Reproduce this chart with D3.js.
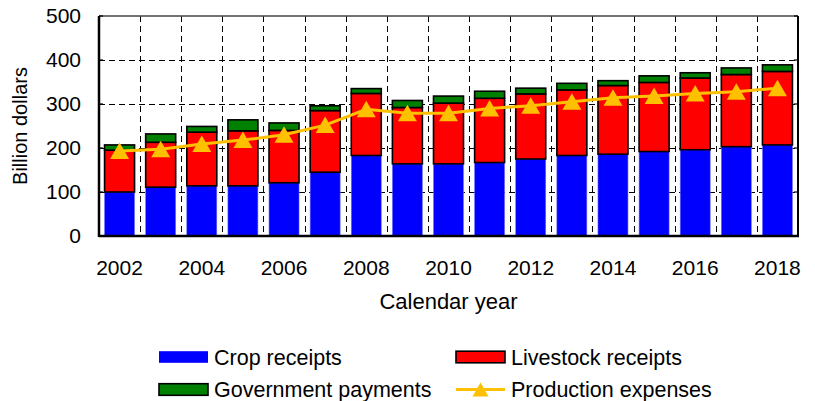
<!DOCTYPE html>
<html>
<head>
<meta charset="utf-8">
<script src="https://cdn.jsdelivr.net/npm/d3@7"></script>
<style>
body { margin: 0; background: #fff; }
text { font-family: "Liberation Sans", Arial, sans-serif; fill: #000; }
</style>
</head>
<body>
<script>
// values, billion dollars
var years = [2002,2003,2004,2005,2006,2007,2008,2009,2010,2011,2012,2013,2014,2015,2016,2017,2018];
var cropReceipts = [100,111,114,114,121,145,183,164,164,167,175,183,186,192,196,203,207];
var livestockReceipts = [95,102,122,125,119,140,141,128,138,146,148,149,156,157,163,164,167];
var govPayments = [12,19,13,25,17,11,11,16,16,16,13,15,11,15,12,15,15];
var prodExpenses = [193,197,209,218,230,252,288,279,279,290,296,305,314,318,324,328,336];
var yTicks = [0,100,200,300,400,500];
var xLabelYears = [2002,2004,2006,2008,2010,2012,2014,2016,2018];

var W = 815, H = 401;
var plotL = 99, plotR = 798, plotT = 16, plotB = 236;

var svg = d3.select("body").append("svg")
	.attr("width", W)
	.attr("height", H);

var x = d3.scaleBand().domain(years).range([plotL, plotR]).paddingInner(0).paddingOuter(0);
var y = d3.scaleLinear().domain([0, 500]).range([plotB, plotT]);

// grid, dashed
var grid = svg.append("g").attr("stroke", "#000").attr("stroke-width", 1).attr("stroke-dasharray", "6,4");
grid.selectAll(".hg").data(yTicks.filter(function(d){ return d > 0 && d < 500; }))
	.enter().append("line")
	.attr("x1", plotL).attr("x2", plotR)
	.attr("y1", function(d){ return Math.round(y(d)) + 0.5; }).attr("y2", function(d){ return Math.round(y(d)) + 0.5; });
grid.selectAll(".vg").data(years.slice(1))
	.enter().append("line")
	.attr("y1", plotT).attr("y2", plotB)
	.attr("x1", function(d){ return Math.round(x(d)) + 0.5; }).attr("x2", function(d){ return Math.round(x(d)) + 0.5; });

// stacked bars
var rows = years.map(function(yr, i){
	return { year: yr, crop: cropReceipts[i], livestock: livestockReceipts[i], gov: govPayments[i] };
});
var stack = d3.stack().keys(["crop", "livestock", "gov"])(rows);
var colors = { crop: "#0000ff", livestock: "#ff0000", gov: "#008000" };
var barW = 30;

stack.forEach(function(layer){
	svg.append("g").selectAll("rect").data(layer).enter().append("rect")
		.attr("x", function(d){ return x(d.data.year) + x.bandwidth()/2 - barW/2; })
		.attr("width", barW)
		.attr("y", function(d){ return y(d[1]); })
		.attr("height", function(d){ return y(d[0]) - y(d[1]); })
		.attr("fill", colors[layer.key])
		.attr("stroke", layer.key == "crop" ? "#7070ff" : "#000")
		.attr("stroke-width", layer.key == "crop" ? 0.6 : 1.6);
});

// production expenses line
var line = d3.line()
	.x(function(d, i){ return x(years[i]) + x.bandwidth()/2; })
	.y(function(d){ return y(d); });
svg.append("path").datum(prodExpenses)
	.attr("d", line)
	.attr("fill", "none")
	.attr("stroke", "#ffc000")
	.attr("stroke-width", 3);

var tri = "M0,-8.5L9.5,8L-9.5,8Z";
svg.append("g").selectAll("path").data(prodExpenses).enter().append("path")
	.attr("d", tri)
	.attr("transform", function(d, i){ return "translate(" + (x(years[i]) + x.bandwidth()/2) + "," + y(d) + ")"; })
	.attr("fill", "#ffc000");

// frame
svg.append("line").attr("x1", plotL).attr("x2", plotR).attr("y1", plotT).attr("y2", plotT).attr("stroke", "#444").attr("stroke-width", 1.5);
svg.append("line").attr("x1", plotR).attr("x2", plotR).attr("y1", plotT).attr("y2", plotB).attr("stroke", "#000").attr("stroke-width", 2);
svg.append("line").attr("x1", plotL).attr("x2", plotL).attr("y1", plotT).attr("y2", plotB + 1).attr("stroke", "#000").attr("stroke-width", 2.5);
svg.append("line").attr("x1", plotL).attr("x2", plotR + 1).attr("y1", plotB).attr("y2", plotB).attr("stroke", "#000").attr("stroke-width", 2.5);

// inner ticks on both sides
svg.append("g").selectAll("line").data(yTicks).enter().append("line")
	.attr("x1", plotR - 4).attr("x2", plotR)
	.attr("y1", function(d){ return y(d); }).attr("y2", function(d){ return y(d); })
	.attr("stroke", "#000").attr("stroke-width", 1.2);
svg.append("g").selectAll("line").data(yTicks).enter().append("line")
	.attr("x1", plotL).attr("x2", plotL + 4)
	.attr("y1", function(d){ return y(d); }).attr("y2", function(d){ return y(d); })
	.attr("stroke", "#000").attr("stroke-width", 1.2);

// y tick labels
svg.append("g").selectAll("text").data(yTicks).enter().append("text")
	.attr("x", 81)
	.attr("y", function(d){ return y(d); })
	.attr("dy", "0.35em")
	.attr("text-anchor", "end")
	.attr("font-size", 21)
	.text(function(d){ return d; });

// x tick labels
svg.append("g").selectAll("text").data(xLabelYears).enter().append("text")
	.attr("x", function(d){ return x(d) + x.bandwidth()/2; })
	.attr("y", 268)
	.attr("dy", "0.35em")
	.attr("text-anchor", "middle")
	.attr("font-size", 21)
	.text(function(d){ return d; });

// axis titles
svg.append("text")
	.attr("transform", "translate(20,126) rotate(-90)")
	.attr("text-anchor", "middle")
	.attr("dy", "0.35em")
	.attr("font-size", 20)
	.text("Billion dollars");
svg.append("text")
	.attr("x", (plotL + plotR) / 2).attr("y", 301)
	.attr("dy", "0.35em")
	.attr("text-anchor", "middle")
	.attr("font-size", 22)
	.text("Calendar year");

// legend
var legendItems = [
	{ name: "Crop receipts", kind: "crop", lx: 159, ly: 357 },
	{ name: "Livestock receipts", kind: "livestock", lx: 456, ly: 357 },
	{ name: "Government payments", kind: "gov", lx: 159, ly: 389.5 },
	{ name: "Production expenses", kind: "line", lx: 456, ly: 389.5 }
];
var lg = svg.append("g").selectAll("g").data(legendItems).enter().append("g")
	.attr("transform", function(d){ return "translate(" + d.lx + "," + d.ly + ")"; });
lg.filter(function(d){ return d.kind != "line"; }).append("rect")
	.attr("x", 0).attr("y", -5.8).attr("width", 49).attr("height", 11.6)
	.attr("fill", function(d){ return colors[d.kind]; })
	.attr("stroke", function(d){ return d.kind == "crop" ? "none" : "#000"; })
	.attr("stroke-width", 1.6);
var ll = lg.filter(function(d){ return d.kind == "line"; });
ll.append("line").attr("x1", 0).attr("x2", 49).attr("y1", 0).attr("y2", 0)
	.attr("stroke", "#ffc000").attr("stroke-width", 3);
ll.append("path").attr("d", "M0,-7L8,7L-8,7Z").attr("transform", "translate(24.5,0)").attr("fill", "#ffc000");
lg.append("text")
	.attr("x", 55).attr("y", 0).attr("dy", "0.35em")
	.attr("font-size", 21.5)
	.text(function(d){ return d.name; });
</script>
</body>
</html>
